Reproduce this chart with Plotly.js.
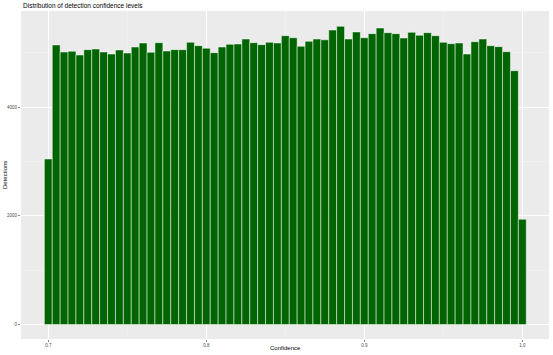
<!DOCTYPE html>
<html>
<head>
<meta charset="utf-8">
<script src="https://cdn.plot.ly/plotly-3.0.1.min.js"></script>
<style>html,body{margin:0;padding:0;background:#fff;}#chart{width:553px;height:355px;}</style>
</head>
<body>
<div id="chart"></div>
<script>
// Bin centres (confidence) and counts
var binStart = 0.7;
var binWidth = 0.005;
var counts = [
  3045, 5143, 5014, 5027, 4959, 5057, 5069, 5014, 4977, 5051,
  4995, 5106, 5179, 5008, 5185, 5032, 5057, 5057, 5192, 5130,
  5082, 5002, 5106, 5155, 5161, 5253, 5185, 5149, 5192, 5180,
  5314, 5277, 5119, 5211, 5253, 5238, 5419, 5486, 5253, 5382,
  5277, 5351, 5455, 5370, 5351, 5272, 5376, 5321, 5370, 5314,
  5192, 5167, 5180, 4977, 5204, 5253, 5130, 5112, 5020, 4670,
  1936
];
var confidence = counts.map(function(_, i){ return +(binStart + i*binWidth).toFixed(3); });
var xTickVals = [0.7, 0.8, 0.9, 1.0];
var xTickText = ["0.7", "0.8", "0.9", "1.0"];
var yTickVals = [0, 2000, 4000];
var yTickText = ["0", "2000", "4000"];
var titleText = "Distribution of detection confidence levels";
var xTitle = "Confidence";
var yTitle = "Detections";

var font = "Liberation Sans, Arial, sans-serif";
var trace = {
  type: 'bar',
  x: confidence,
  y: counts,
  width: binWidth,
  marker: {color: '#006400', line: {color: '#FFFFFF', width: 0.5}},
  hoverinfo: 'x+y'
};
var axisCommon = {
  showline: false,
  zeroline: false,
  showgrid: true,
  gridcolor: '#FFFFFF',
  gridwidth: 1,
  ticks: 'outside',
  ticklen: 2,
  tickwidth: 0.6,
  tickcolor: '#333333',
  tickfont: {family: font, size: 4.5, color: '#4D4D4D'}
};
var layout = {
  width: 553, height: 355,
  margin: {l: 21, r: 4, t: 11, b: 16, pad: 0},
  paper_bgcolor: '#FFFFFF',
  plot_bgcolor: '#EBEBEB',
  bargap: 0,
  showlegend: false,
  font: {family: font, color: '#000000'},
  xaxis: Object.assign({}, axisCommon, {
    range: [0.68272, 1.0169],
    tickmode: 'array', tickvals: xTickVals, ticktext: xTickText,
    minor: {tickmode: 'array', tickvals: [0.75, 0.85, 0.95], showgrid: true, gridcolor: 'rgba(255,255,255,0.55)', gridwidth: 0.5, ticks: ''}
  }),
  yaxis: Object.assign({}, axisCommon, {
    range: [-267, 5768],
    tickmode: 'array', tickvals: yTickVals, ticktext: yTickText,
    minor: {tickmode: 'array', tickvals: [1000, 3000, 5000], showgrid: true, gridcolor: 'rgba(255,255,255,0.55)', gridwidth: 0.5, ticks: ''}
  }),
  annotations: [
    {text: titleText, xref: 'paper', yref: 'paper', x: 0, y: 1, xanchor: 'left', yanchor: 'middle', yshift: 6, showarrow: false, font: {family: font, size: 6.5, color: '#000000'}},
    {text: xTitle, xref: 'paper', yref: 'paper', x: 0.5, y: 0, xanchor: 'center', yanchor: 'middle', yshift: -9, showarrow: false, font: {family: font, size: 6, color: '#000000'}},
    {text: yTitle, xref: 'paper', yref: 'paper', x: 0, y: 0.5, xanchor: 'center', yanchor: 'middle', xshift: -16, textangle: -90, showarrow: false, font: {family: font, size: 6, color: '#000000'}}
  ]
};
Plotly.newPlot('chart', [trace], layout, {displayModeBar: false, staticPlot: true});
</script>
</body>
</html>
